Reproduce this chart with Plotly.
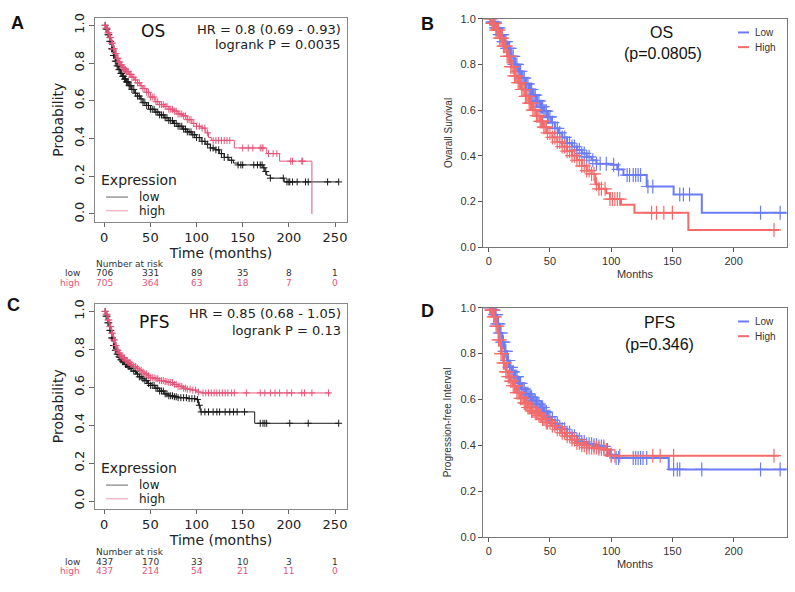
import numpy as np
import plotly.graph_objects as go

W, H = 795, 592
def px(x): return x / W
def py(y): return 1 - y / H

# ---------------- DATA ----------------
# Panel A (OS, KM plotter)
A_low_t = [0,2,4,6,8,10,12,14,16,18,20,22,24,27,30,33,36,39,42,46,50,55,60,65,70,75,80,85,90,95,100,105,110,115,120,125,130,135,140,145,172,174,176,180,195,254]
A_low_s = [1.0,0.98,0.95,0.915,0.875,0.84,0.81,0.785,0.765,0.745,0.73,0.715,0.70,0.68,0.66,0.64,0.625,0.61,0.59,0.575,0.555,0.54,0.525,0.51,0.495,0.48,0.465,0.45,0.435,0.42,0.405,0.385,0.37,0.35,0.34,0.32,0.30,0.285,0.27,0.26,0.245,0.225,0.205,0.19,0.17,0.17]
A_low_c = [1,2,3,4,5,6,7,8,9,10,11,12,13,14,15,16,17,18,19,20,21,22,23,24,25,26,27,28,29,30,32,34,36,38,40,42,44,46,48,50,52,54,56,58,60,62,64,66,68,70,72,74,76,78,80,82,84,86,88,90,92,94,96,98,100,103,106,109,112,115,118,121,124,127,130,134,138,145,148,150,162,166,169,171,173,175,180,194,198,200,201,204,209,218,221,242,254]
A_high_t = [0,2,4,6,8,10,12,14,16,18,20,22,24,27,30,33,36,39,42,46,50,55,60,65,70,75,80,85,90,95,100,105,110,113,116,141,176,190,225]
A_high_s = [1.0,0.985,0.96,0.935,0.905,0.875,0.85,0.825,0.805,0.79,0.775,0.765,0.755,0.74,0.725,0.71,0.695,0.68,0.665,0.645,0.62,0.595,0.58,0.57,0.555,0.545,0.53,0.52,0.50,0.48,0.465,0.455,0.43,0.405,0.39,0.35,0.32,0.28,0.0]
A_high_c = [1,2,3,4,5,6,7,8,9,10,11,12,13,14,15,16,17,18,19,20,21,22,23,24,25,26,27,28,29,30,32,34,36,38,40,42,44,46,48,50,52,54,56,58,60,62,64,66,68,70,72,74,76,78,80,82,84,86,88,90,92,94,97,100,103,106,109,112,118,121,124,127,130,133,136,150,156,161,169,171,172,178,183,187,202,204,214,215]

# Panel C (PFS, KM plotter)
C_low_t = [0,2,4,6,8,10,12,14,16,18,20,23,26,29,32,35,38,41,44,47,50,55,60,65,70,75,80,90,100,102,104,163,254]
C_low_s = [1.0,0.975,0.94,0.90,0.86,0.82,0.795,0.775,0.76,0.745,0.735,0.72,0.71,0.70,0.685,0.67,0.655,0.645,0.635,0.62,0.61,0.595,0.58,0.565,0.555,0.55,0.545,0.54,0.535,0.505,0.47,0.41,0.41]
C_low_c = [1,2,3,4,5,6,7,8,9,10,11,12,13,14,15,16,17,18,19,20,21,22,23,24,25,26,27,28,29,30,32,34,36,38,40,42,44,46,48,50,52,54,56,58,60,62,64,66,68,70,72,74,76,78,80,83,86,89,92,95,98,101,103,105,109,113,118,122,125,131,136,140,144,152,169,172,174,176,201,221,254]
C_high_t = [0,2,4,6,8,10,12,14,16,18,20,23,26,29,32,35,38,41,44,47,50,55,60,65,70,75,80,85,90,95,100,105,245]
C_high_s = [1.0,0.985,0.955,0.92,0.885,0.85,0.82,0.795,0.78,0.765,0.755,0.74,0.73,0.72,0.71,0.70,0.69,0.68,0.67,0.66,0.65,0.645,0.635,0.63,0.625,0.615,0.605,0.595,0.59,0.585,0.575,0.57,0.57]
C_high_c = [1,2,3,4,5,6,7,8,9,10,11,12,13,14,15,16,17,18,19,20,21,22,23,24,25,26,27,28,29,30,32,34,36,38,40,42,44,46,48,50,52,54,56,58,60,62,64,66,68,70,72,74,76,78,80,82,84,86,88,90,93,96,99,102,107,110,113,116,119,122,125,128,131,134,138,141,154,169,174,180,185,190,198,203,214,217,225,243]

risk_times = [0, 50, 100, 150, 200, 250]
A_risk_low = [706, 331, 89, 35, 8, 1]
A_risk_high = [705, 364, 63, 18, 7, 0]
C_risk_low = [437, 170, 33, 10, 3, 1]
C_risk_high = [437, 214, 54, 21, 11, 0]

# Panel B (OS, Low/High)
B_low_t = [0,3,6,9,12,15,18,21,24,27,30,33,36,39,42,45,48,51,54,57,60,64,68,72,76,80,84,88,100,105,110,129,151,174,243]
B_low_s = [1.0,0.985,0.96,0.93,0.90,0.87,0.835,0.80,0.77,0.74,0.715,0.69,0.665,0.64,0.615,0.595,0.57,0.545,0.52,0.50,0.48,0.455,0.44,0.425,0.41,0.395,0.38,0.365,0.36,0.34,0.315,0.265,0.23,0.15,0.15]
B_low_c = [1,2,3,4,5,6,7,8,9,10,11,12,13,14,15,16,17,18,19,20,21,22,23,24,25,26,27,28,29,30,31,32,33,34,35,36,37,38,39,40,41,42,43,44,45,46,47,48,49,50,52,54,56,58,60,62,64,66,68,70,72,74,76,78,80,82,85,88,91,96,102,106,113,115,118,120,122,124,130,134,156,159,164,222,238]
B_high_t = [0,3,6,9,12,15,18,21,24,27,30,33,36,39,42,45,48,52,56,60,64,68,72,76,80,84,87,90,96,99,108,119,163,237]
B_high_s = [1.0,0.98,0.95,0.915,0.88,0.835,0.79,0.75,0.72,0.69,0.66,0.63,0.60,0.575,0.55,0.525,0.50,0.48,0.46,0.44,0.42,0.40,0.38,0.355,0.335,0.32,0.275,0.255,0.235,0.21,0.185,0.15,0.075,0.075]
B_high_c = [1,2,3,4,5,6,7,8,9,10,11,12,13,14,15,16,17,18,19,20,21,22,23,24,25,26,27,28,29,30,31,32,33,34,35,36,37,38,39,40,41,42,43,44,45,46,47,48,50,52,54,56,58,60,62,64,66,68,70,72,74,76,78,80,82,84,86,88,90,92,95,99,101,103,105,107,133,137,143,150,233]

# Panel D (PFS, Low/High)
D_low_t = [0,3,5,7,9,11,13,15,17,19,21,24,27,30,33,36,39,42,45,48,51,54,57,60,64,68,72,76,80,85,90,96,99,101,147,243]
D_low_s = [1.0,0.99,0.97,0.93,0.89,0.85,0.81,0.77,0.74,0.72,0.70,0.67,0.645,0.625,0.61,0.595,0.58,0.565,0.545,0.525,0.51,0.495,0.48,0.47,0.455,0.44,0.425,0.415,0.405,0.40,0.395,0.38,0.36,0.345,0.295,0.295]
D_low_c = [1,2,3,4,5,6,7,8,9,10,11,12,13,14,15,16,17,18,19,20,21,22,23,24,25,26,27,28,29,30,31,32,33,34,35,36,37,38,39,40,41,42,43,44,45,46,47,48,49,50,52,54,56,58,60,62,64,66,68,70,72,74,76,78,80,82,84,86,88,90,92,94,97,100,104,106,118,120,122,124,126,129,151,154,156,174,222,238]
D_high_t = [0,2,4,6,8,10,12,14,16,18,20,23,26,29,32,35,38,41,44,47,51,55,59,63,67,71,75,80,90,96,98,237]
D_high_s = [1.0,0.99,0.96,0.92,0.86,0.80,0.76,0.72,0.70,0.68,0.66,0.63,0.605,0.585,0.565,0.55,0.54,0.53,0.515,0.50,0.485,0.47,0.455,0.44,0.425,0.41,0.40,0.39,0.385,0.38,0.355,0.355]
D_high_c = [1,2,3,4,5,6,7,8,9,10,11,12,13,14,15,16,17,18,19,20,21,22,23,24,25,26,27,28,29,30,31,32,33,34,35,36,37,38,39,40,41,42,43,44,45,46,47,48,50,52,54,56,58,60,62,64,66,68,70,72,74,76,78,80,82,84,86,88,90,92,94,96,100,103,107,134,140,151,233]

# ---------------- STYLE ----------------
BLACK = "#1a1a1a"
PINK = "#e6557a"
BLUE = "#6b7cf4"
SALMON = "#f36b6b"
R_FONT = "DejaVu Sans"
A_FONT = "Liberation Sans"

def surv_at(t, s, times):
    t = np.asarray(t, float); s = np.asarray(s, float)
    idx = np.searchsorted(t, np.asarray(times, float), side="right") - 1
    return s[np.clip(idx, 0, len(s) - 1)]

fig = go.Figure()

def add_km(t, s, c, name, color, xa, ya, lw, msize, mlw):
    fig.add_trace(go.Scatter(x=t, y=s, mode="lines", line=dict(color=color, width=lw, shape="hv"),
                             name=name, showlegend=False, xaxis=xa, yaxis=ya, hoverinfo="skip"))
    fig.add_trace(go.Scatter(x=c, y=surv_at(t, s, c), mode="markers", showlegend=False, name=name + " censored",
                             marker=dict(symbol="cross-thin", size=msize, line=dict(color=color, width=mlw)),
                             xaxis=xa, yaxis=ya, hoverinfo="skip"))

add_km(A_low_t, A_low_s, A_low_c, "low", BLACK, "x", "y", 1, 5, 1)
add_km(A_high_t, A_high_s, A_high_c, "high", PINK, "x", "y", 1, 5, 1)
add_km(B_low_t, B_low_s, B_low_c, "Low", BLUE, "x2", "y2", 2, 10, 1.2)
add_km(B_high_t, B_high_s, B_high_c, "High", SALMON, "x2", "y2", 2, 10, 1.2)
add_km(C_low_t, C_low_s, C_low_c, "low", BLACK, "x3", "y3", 1, 5, 1)
add_km(C_high_t, C_high_s, C_high_c, "high", PINK, "x3", "y3", 1, 5, 1)
add_km(D_low_t, D_low_s, D_low_c, "Low", BLUE, "x4", "y4", 2, 10, 1.2)
add_km(D_high_t, D_high_s, D_high_c, "High", SALMON, "x4", "y4", 2, 10, 1.2)

def r_xaxis(dom):
    return dict(domain=dom, range=[-10, 263], tickvals=[0, 50, 100, 150, 200, 250],
                ticks="outside", ticklen=4, tickcolor="#666", showline=True, mirror=True,
                linecolor="#888", linewidth=1, showgrid=False, zeroline=False,
                tickfont=dict(family=R_FONT, size=13, color="#222"),
                title=dict(text="Time (months)", font=dict(family=R_FONT, size=14, color="#222"), standoff=2))

def r_yaxis(dom):
    return dict(domain=dom, range=[-0.04, 1.04], tickvals=[0, 0.2, 0.4, 0.6, 0.8, 1.0],
                ticktext=["0.0", "0.2", "0.4", "0.6", "0.8", "1.0"], tickangle=-90,
                ticks="outside", ticklen=5, tickcolor="#666", showline=True, mirror=True,
                linecolor="#888", linewidth=1, showgrid=False, zeroline=False,
                tickfont=dict(family=R_FONT, size=13, color="#222"),
                title=dict(text="Probability", font=dict(family=R_FONT, size=14, color="#222"), standoff=4))

def s_xaxis(dom):
    return dict(domain=dom, range=[-4.7, 243.6], tickvals=[0, 50, 100, 150, 200],
                ticks="outside", ticklen=4, tickcolor="#555", showline=True, mirror=True,
                linecolor="#777", linewidth=1, showgrid=False, zeroline=False,
                tickfont=dict(family=A_FONT, size=11, color="#333"),
                title=dict(text="Months", font=dict(family=A_FONT, size=11, color="#333"), standoff=4))

def s_yaxis(dom, title):
    return dict(domain=dom, range=[0, 1], tickvals=[0, 0.2, 0.4, 0.6, 0.8, 1.0], tickformat=".1f",
                ticks="outside", ticklen=4, tickcolor="#555", showline=True, mirror=True,
                linecolor="#777", linewidth=1, showgrid=False, zeroline=False,
                tickfont=dict(family=A_FONT, size=11, color="#333"),
                title=dict(text=title, font=dict(family=A_FONT, size=10, color="#333"), standoff=6))

xa = r_xaxis([px(95), px(347)]); ya = r_yaxis([py(220), py(12)])
xb = s_xaxis([px(483), px(787)]); yb = s_yaxis([py(246), py(13)], "Ovarall Survival")
xc = r_xaxis([px(95), px(347)]); yc = r_yaxis([py(513), py(304)])
xd = s_xaxis([px(483), px(787)]); yd = s_yaxis([py(542), py(308)], "Progression-free Interval")
xb["anchor"] = "y2"; yb["anchor"] = "x2"
xc["anchor"] = "y3"; yc["anchor"] = "x3"
xd["anchor"] = "y4"; yd["anchor"] = "x4"

annotations = []
shapes = []
def txt(x, y, s, size, family, anchor="center", bold=False, color="#111", xref="paper"):
    annotations.append(dict(x=x, y=y, xref=xref, yref="paper", text=(f"<b>{s}</b>" if bold else s),
                            showarrow=False, xanchor=anchor, yanchor="middle", borderpad=0,
                            font=dict(family=family, size=size, color=color)))

def legend_line(x0, x1, y, color, width):
    shapes.append(dict(type="line", xref="paper", yref="paper", x0=px(x0), x1=px(x1), y0=py(y), y1=py(y),
                       line=dict(color=color, width=width)))

# panel letters
txt(px(17), py(17), "A", 18, A_FONT, bold=True)
txt(px(427), py(18), "B", 18, A_FONT, bold=True)
txt(px(13), py(305), "C", 18, A_FONT, bold=True)
txt(px(427), py(311), "D", 18, A_FONT, bold=True)

# panel A texts
txt(px(153), py(26), "OS", 17, R_FONT)
txt(px(342), py(24), "HR = 0.8 (0.69 - 0.93)", 13, R_FONT, anchor="right", color="#222")
txt(px(342), py(39), "logrank P = 0.0035", 13, R_FONT, anchor="right", color="#222")
# panel C texts
txt(px(154), py(323), "PFS", 17, R_FONT)
txt(px(342), py(314), "HR = 0.85 (0.68 - 1.05)", 13, R_FONT, anchor="right", color="#222")
txt(px(342), py(331), "logrank P = 0.13", 13, R_FONT, anchor="right", color="#222")
# panel B/D texts
txt(px(661), py(27), "OS", 16, A_FONT)
txt(px(663), py(48), "(p=0.0805)", 16, A_FONT)
txt(px(659), py(323), "PFS", 16, A_FONT)
txt(px(659), py(346), "(p=0.346)", 16, A_FONT)

# legends for A / C (R style)
def r_legend(y_title):
    txt(px(100), py(y_title), "Expression", 14, R_FONT, anchor="left", color="#222")
    legend_line(106, 128, y_title + 17, "#666", 1)
    txt(px(138), py(y_title + 17), "low", 12, R_FONT, anchor="left", color="#222")
    legend_line(106, 128, y_title + 31, "#f09aae", 1)
    txt(px(138), py(y_title + 31), "high", 12, R_FONT, anchor="left", color="#222")

r_legend(178)
r_legend(472)

# legends for B / D
def s_legend(y_low):
    legend_line(738, 749, y_low, BLUE, 2)
    txt(px(754), py(y_low), "Low", 10, A_FONT, anchor="left", color="#333")
    legend_line(738, 749, y_low + 15, SALMON, 2)
    txt(px(754), py(y_low + 15), "High", 10, A_FONT, anchor="left", color="#333")

s_legend(27)
s_legend(322)

# risk tables
def risk_table(xref, y0, lows, highs):
    txt(px(95), py(y0), "Number at risk", 9, R_FONT, anchor="left", color="#333")
    txt(px(81), py(y0 + 10), "low", 9, R_FONT, anchor="right", color="#333")
    txt(px(81), py(y0 + 20), "high", 9, R_FONT, anchor="right", color=PINK)
    for t, lo, hi in zip(risk_times, lows, highs):
        txt(t, py(y0 + 10), str(lo), 9, R_FONT, color="#333", xref=xref)
        txt(t, py(y0 + 20), str(hi), 9, R_FONT, color=PINK, xref=xref)

risk_table("x", 263, A_risk_low, A_risk_high)
risk_table("x3", 557, C_risk_low, C_risk_high)

fig.update_layout(
    width=W, height=H, margin=dict(l=0, r=0, t=0, b=0),
    paper_bgcolor="white", plot_bgcolor="white",
    xaxis=xa, yaxis=ya, xaxis2=xb, yaxis2=yb, xaxis3=xc, yaxis3=yc, xaxis4=xd, yaxis4=yd,
    annotations=annotations, shapes=shapes, showlegend=False,
)

fig.write_html("out.html")
